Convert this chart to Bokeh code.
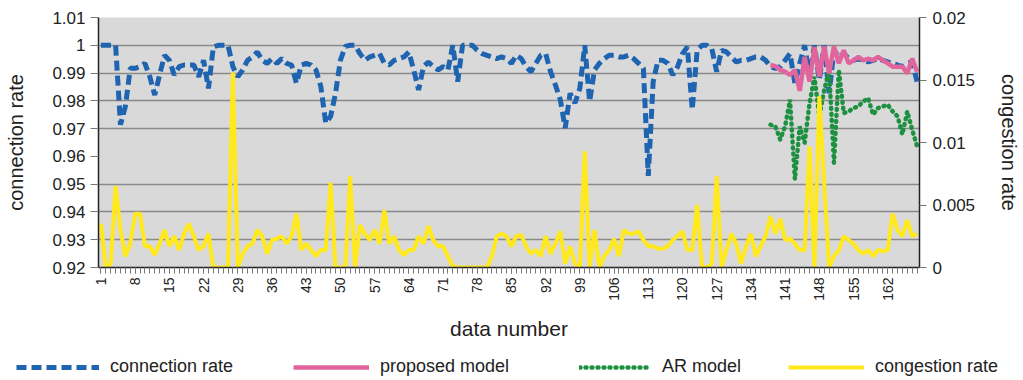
from bokeh.plotting import figure
from bokeh.models import (Range1d, LinearAxis, FixedTicker, CustomJSTickFormatter,
                          Legend, LegendItem)
from bokeh.embed import file_html
from bokeh.resources import INLINE
import math

FONT = "Liberation Sans"

# ---------------- data ----------------
data_number = list(range(1, 169))

connection_rate = [
    1.0, 1.0, 1.0, 1.0, 0.9714, 0.978, 0.9917, 0.9917, 0.9923, 0.9935,
    0.9887, 0.9821, 0.9893, 0.9964, 0.9946, 0.9893, 0.9923, 0.9929, 0.9929, 0.9929,
    0.9887, 0.9946, 0.9845, 0.9994, 1.0, 1.0, 1.0, 0.9923, 0.9887, 0.9911,
    0.9946, 0.9958, 0.9976, 0.9946, 0.9935, 0.9952, 0.9935, 0.9952, 0.9935, 0.9929,
    0.9863, 0.9929, 0.9935, 0.9929, 0.9911, 0.9851, 0.9720, 0.9744, 0.9827, 0.9946,
    0.9996, 1.0, 1.0, 0.9970, 0.9946, 0.9958, 0.9964, 0.9970, 0.9935, 0.9929,
    0.9946, 0.9952, 0.9958, 0.9976, 0.9911, 0.9839, 0.9923, 0.9940, 0.9923, 0.9911,
    0.9923, 0.9911, 1.0, 0.9869, 1.0, 1.0, 1.0, 0.9982, 0.9970, 0.9964,
    0.9958, 0.9952, 0.9958, 0.9952, 0.9935, 0.9964, 0.9952, 0.9923, 0.9905, 0.9935,
    0.9964, 0.9970, 0.9905, 0.9857, 0.9804, 0.9702, 0.9827, 0.9792, 0.9845, 1.0,
    0.9798, 0.9911, 0.9935, 0.9952, 0.9964, 0.9964, 0.9958, 0.9958, 0.9964, 0.9952,
    0.9935, 0.9917, 0.9530, 0.9869, 0.9946, 0.9946, 0.9935, 0.9893, 0.9923, 0.9970,
    0.9994, 0.9768, 0.9982, 1.0, 1.0, 0.9988, 0.9905, 0.9982, 0.9976, 0.9958,
    0.9940, 0.9946, 0.9946, 0.9952, 0.9958, 0.9958, 0.9946, 0.9923, 0.9917, 0.9923,
    0.9946, 0.9970, 0.9863, 0.9935, 1.0, 0.9887, 1.0, 0.9875, 1.0, 0.9827,
    0.9982, 0.9958, 0.9970, 0.9952, 0.9946, 0.9952, 0.9946, 0.9940, 0.9946, 0.9952,
    0.9946, 0.9940, 0.9935, 0.9929, 0.9923, 0.9935, 0.9940, 0.9869,
]

model_number = list(range(138, 169))

proposed_model = [
    0.9929, 0.9925, 0.9911, 0.9905, 0.9893, 0.9911, 0.9836, 0.9958, 0.9869, 0.9994,
    0.9887, 0.9996, 0.9899, 0.9996, 0.9935, 0.9982, 0.9935, 0.9946, 0.9958, 0.9946,
    0.9952, 0.9946, 0.9958, 0.9946, 0.9935, 0.9923, 0.9923, 0.9923, 0.9899, 0.9952,
    0.9905,
]

ar_model = [
    0.9714, 0.9708, 0.9661, 0.9708, 0.9804, 0.9518, 0.9708, 0.9649, 0.9792, 0.9887,
    0.9744, 0.9839, 0.9911, 0.9577, 0.9911, 0.9756, 0.9762, 0.9774, 0.9780, 0.9798,
    0.9810, 0.9750, 0.9774, 0.9780, 0.9786, 0.9762, 0.9744, 0.9679, 0.9762, 0.9696,
    0.9637,
]

congestion_rate = [
    0.0035, 0.0, 0.0003, 0.0065, 0.0030, 0.0009, 0.0019, 0.0043, 0.0043, 0.0017,
    0.0017, 0.0010, 0.0019, 0.0030, 0.0017, 0.0025, 0.0014, 0.0027, 0.0035, 0.0025,
    0.0014, 0.0017, 0.0027, 0.0, 0.0, 0.0, 0.0, 0.0156, 0.0, 0.0011,
    0.0017, 0.0019, 0.0030, 0.0025, 0.0011, 0.0022, 0.0023, 0.0025, 0.0019, 0.0025,
    0.0043, 0.0014, 0.0019, 0.0014, 0.0009, 0.0014, 0.0014, 0.0068, 0.0, 0.0,
    0.0, 0.0073, 0.0, 0.0034, 0.0027, 0.0022, 0.0030, 0.0019, 0.0046, 0.0019,
    0.0025, 0.0014, 0.0010, 0.0014, 0.0014, 0.0025, 0.0019, 0.0033, 0.0022, 0.0017,
    0.0017, 0.0009, 0.0001, 0.0, 0.0, 0.0, 0.0, 0.0, 0.0, 0.0,
    0.0009, 0.0025, 0.0027, 0.0025, 0.0017, 0.0025, 0.0026, 0.0017, 0.0011, 0.0014,
    0.0009, 0.0025, 0.0011, 0.0019, 0.0029, 0.0003, 0.0017, 0.0003, 0.0, 0.0093,
    0.0, 0.0030, 0.0, 0.0009, 0.0014, 0.0023, 0.0009, 0.0030, 0.0027, 0.0027,
    0.0029, 0.0022, 0.0017, 0.0017, 0.0015, 0.0015, 0.0017, 0.0022, 0.0025, 0.0029,
    0.0014, 0.0014, 0.0050, 0.0, 0.0, 0.0003, 0.0073, 0.0, 0.0014, 0.0027,
    0.0019, 0.0003, 0.0017, 0.0027, 0.0009, 0.0017, 0.0025, 0.0041, 0.0027, 0.0039,
    0.0022, 0.0023, 0.0019, 0.0014, 0.0014, 0.0097, 0.0, 0.0137, 0.0068, 0.0,
    0.0009, 0.0014, 0.0025, 0.0022, 0.0019, 0.0014, 0.0011, 0.0014, 0.0009, 0.0014,
    0.0013, 0.0014, 0.0043, 0.0030, 0.0025, 0.0038, 0.0025, 0.0027,
]

x_tick_labels = list(range(1, 169, 7))          # 1, 8, 15, ... 162
left_ticks = [0.92, 0.93, 0.94, 0.95, 0.96, 0.97, 0.98, 0.99, 1.0, 1.01]
left_grid = [0.93, 0.94, 0.95, 0.97, 0.98, 0.99, 1.0]
right_ticks = [0.0, 0.005, 0.01, 0.015, 0.02]
series_names = ["connection rate", "proposed model", "AR model", "congestion rate"]

# ---------------- styles ----------------
STY = {
    "connection rate": dict(line_color="#1f64b0", line_width=5, line_dash="10 5"),
    "AR model": dict(line_color="#1e9140", line_width=4.5, line_dash="1 5", line_cap="round"),
    "proposed model": dict(line_color="#e2649d", line_width=4.5),
    "congestion rate": dict(line_color="#ffe81c", line_width=4),
}
TXT = "#222222"
BL, BR = 98, 95   # side borders of the main figure

# ---------------- main figure ----------------
p = figure(width=1023, height=345, output_backend="svg", toolbar_location=None,
           x_range=Range1d(0.5, 168.5), y_range=Range1d(0.92, 1.01),
           min_border_left=BL, min_border_right=BR, min_border_top=17,
           min_border_bottom=78)
p.extra_y_ranges = {"cong": Range1d(0.0, 0.02)}

p.background_fill_color = "#d9d9d9"
p.border_fill_color = "white"
p.outline_line_color = None

fmt = CustomJSTickFormatter(code="return String(Number(tick.toFixed(4)));")

p.xgrid.visible = False
p.ygrid.ticker = FixedTicker(ticks=left_grid)
p.ygrid.grid_line_color = "#8a8a8a"
p.ygrid.grid_line_width = 1.6

xa = p.xaxis[0]
xa.ticker = FixedTicker(ticks=x_tick_labels, minor_ticks=data_number)
xa.major_label_orientation = math.pi / 2
xa.axis_label = "data number"
xa.axis_label_text_font = FONT
xa.axis_label_text_font_size = "21px"
xa.axis_label_text_font_style = "normal"
xa.axis_label_text_color = TXT
xa.axis_label_standoff = 13
xa.major_label_text_font = FONT
xa.major_label_text_font_size = "14px"
xa.major_label_text_color = TXT
xa.major_label_standoff = 4
xa.axis_line_color = TXT
xa.axis_line_width = 1.5
xa.major_tick_line_color = "#777777"
xa.minor_tick_line_color = "#777777"
xa.major_tick_in = 0
xa.major_tick_out = 6
xa.minor_tick_in = 0
xa.minor_tick_out = 6

ya = p.yaxis[0]
ya.ticker = FixedTicker(ticks=left_ticks, minor_ticks=[])
ya.formatter = fmt
ya.axis_label = "connection rate"
ya.axis_label_text_font = FONT
ya.axis_label_text_font_size = "20px"
ya.axis_label_text_font_style = "normal"
ya.axis_label_text_color = TXT
ya.axis_label_standoff = 22
ya.major_label_text_font = FONT
ya.major_label_text_font_size = "17px"
ya.major_label_text_color = TXT
ya.major_label_standoff = 5
ya.axis_line_color = TXT
ya.axis_line_width = 1.5
ya.major_tick_line_color = "#777777"
ya.major_tick_in = 0
ya.major_tick_out = 8

ra = LinearAxis(y_range_name="cong")
ra.ticker = FixedTicker(ticks=right_ticks, minor_ticks=[])
ra.formatter = fmt
ra.axis_label = "congestion rate"
ra.axis_label_text_font = FONT
ra.axis_label_text_font_size = "20px"
ra.axis_label_text_font_style = "normal"
ra.axis_label_text_color = TXT
ra.axis_label_standoff = 20
ra.major_label_text_font = FONT
ra.major_label_text_font_size = "17px"
ra.major_label_text_color = TXT
ra.major_label_standoff = 6
ra.axis_line_color = TXT
ra.axis_line_width = 1.5
ra.major_tick_line_color = "#777777"
ra.major_tick_in = 0
ra.major_tick_out = 7
p.add_layout(ra, "right")

p.line(data_number, connection_rate, **STY["connection rate"])
p.line(model_number, ar_model, **STY["AR model"])
p.line(model_number, proposed_model, **STY["proposed model"])
p.line(data_number, congestion_rate, y_range_name="cong", **STY["congestion rate"])

# ---------------- legend strip (separate root, full-width frame) ----------------
lg = figure(width=1023, height=35, output_backend="svg", toolbar_location=None,
            x_range=Range1d(0, 1), y_range=Range1d(0, 1),
            x_axis_type=None, y_axis_type=None,
            min_border_left=0, min_border_right=0, min_border_top=0, min_border_bottom=0)
lg.outline_line_color = None
lg.background_fill_color = "white"
lg.border_fill_color = "white"

# (page x of the swatch start, swatch width) of each legend entry
legend_pos = {"connection rate": (16, 83), "proposed model": (293, 76),
              "AR model": (579, 72), "congestion rate": (788, 76)}

for name in series_names:
    r = lg.line([0, 1], [5, 5], **STY[name])   # off-screen proxy for the legend swatch
    x0, gw = legend_pos[name]
    L = Legend(items=[LegendItem(label=name, renderers=[r])], location=(x0, 3),
               orientation="horizontal")
    L.background_fill_alpha = 0
    L.border_line_color = None
    L.padding = 0
    L.margin = 0
    L.glyph_width = gw
    L.glyph_height = 20
    L.label_height = 20
    L.label_standoff = 11
    L.label_text_font = FONT
    L.label_text_font_size = "18px"
    L.label_text_color = TXT
    lg.add_layout(L, "center")

open("out.html", "w").write(file_html([p, lg], INLINE))
